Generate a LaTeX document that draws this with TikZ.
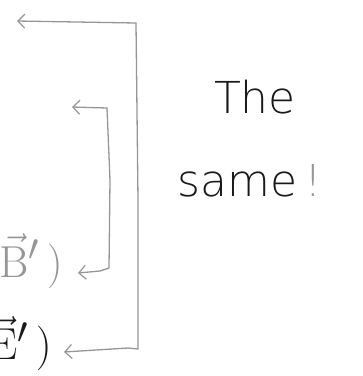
\documentclass[tikz,border=0pt]{standalone}
\usepackage{fontspec}
\newfontfamily\handfont{DejaVu Sans ExtraLight}
\usetikzlibrary{arrows.meta}
\definecolor{pencil}{RGB}{150,150,150}
\definecolor{ink}{RGB}{25,25,25}
\begin{document}
\begin{tikzpicture}[x=1pt,y=-1pt,
  bracket/.style={draw=pencil,line width=1.3pt,line cap=round,line join=round,
    -{Straight Barb[length=7pt,width=14pt,line width=1.2pt]}},
  inklabel/.style={text=ink,inner sep=0pt},
  pencillabel/.style={text=pencil,inner sep=0pt},
  handtext/.style={text=ink,font=\handfont\fontsize{44}{48}\selectfont,inner sep=0pt}]
\useasboundingbox (0,0) rectangle (363,376);
% outer bracket
\coordinate (otop) at (136,23);
\coordinate (obot) at (138,349);
\coordinate (otip) at (17,21);
\coordinate (obtip) at (64,352);
\draw[bracket] (otop) -- (138,200) -- (obot) -- (128,348) -- (obtip);
\draw[bracket] (otop) -- (otip);
% inner bracket
\coordinate (itop) at (107,108);
\coordinate (ibot) at (109,268);
\coordinate (itip) at (72,107);
\coordinate (ibtip) at (78,273);
\draw[bracket] (itop) -- (110,180) -- (ibot) -- (100,271) -- (ibtip);
\draw[bracket] (itop) -- (itip);
% labels
\node[pencillabel,anchor=east] (blab) at (63,261) {\scalebox{1.8}{\fontsize{24.88}{28}\selectfont$\vec{\mathrm{B}}'\,)$}};
\node[inklabel,anchor=east] (elab) at (52,344) {\scalebox{1.8}{\fontsize{24.88}{28}\selectfont$\vec{\mathrm{E}}'\,)$}};
\node[handtext] (the) at (255,97) {The};
\node[handtext,anchor=base] (same) at (250,196) {same\textcolor{pencil}{\,!}};
\end{tikzpicture}
\end{document}
